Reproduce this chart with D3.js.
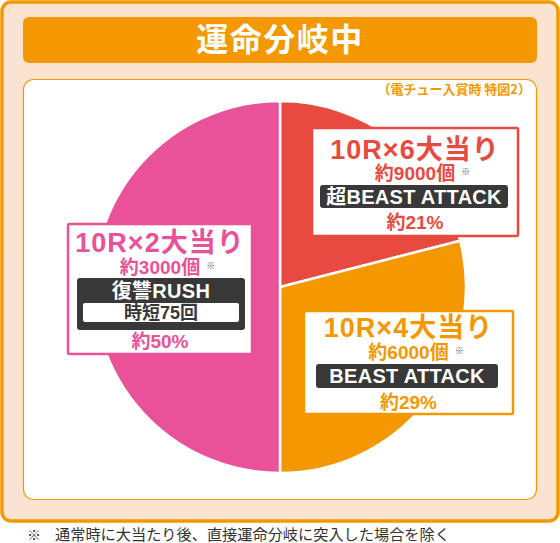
<!DOCTYPE html>
<html>
<head>
<meta charset="utf-8">
<script src="https://cdn.jsdelivr.net/npm/d3@7"></script>
<style>
html,body{margin:0;padding:0;background:#fff;}
svg{display:block;}
text{font-family:"Liberation Sans","Noto Sans CJK JP",sans-serif;}
</style>
</head>
<body>
<svg id="chart" width="560" height="543"></svg>
<script>
// ---- data ----
const title = "運命分岐中";
const subtitle = "（電チュー入賞時 特図2）";
const footnote = "通常時に大当たり後、直接運命分岐に突入した場合を除く";
const categories = ["10R×6大当り", "10R×4大当り", "10R×2大当り"];
const shares = [21, 29, 50];
const payouts = ["約9000個", "約6000個", "約3000個"];
const modes = ["超BEAST ATTACK", "BEAST ATTACK", "復讐RUSH"];
const subModes = ["", "", "時短75回"];
const shareLabels = ["約21%", "約29%", "約50%"];
const colors = ["#e84a40", "#f39800", "#e95198"];

// ---- layout ----
const svg = d3.select("#chart");
const orange = "#f39800";

svg.append("rect").attr("x", 2).attr("y", 2).attr("width", 556).attr("height", 519)
  .attr("rx", 9).attr("fill", "#fbe3d2").attr("stroke", orange).attr("stroke-width", 3.5);
svg.append("rect").attr("x", 23).attr("y", 17).attr("width", 514).attr("height", 46)
  .attr("rx", 6).attr("fill", orange);
svg.append("text").attr("x", 280).attr("y", 51).attr("text-anchor", "middle")
  .attr("fill", "#fff").attr("font-size", 32).attr("font-weight", 700)
  .attr("letter-spacing", 1.5)
  .style("font-family", "'Noto Sans CJK JP',sans-serif").text(title);
svg.append("rect").attr("x", 23.5).attr("y", 79.5).attr("width", 513).attr("height", 420)
  .attr("rx", 10).attr("fill", "#fff").attr("stroke", orange).attr("stroke-width", 1.2);
svg.append("text").attr("x", 531).attr("y", 94).attr("text-anchor", "end")
  .attr("fill", orange).attr("font-size", 13).attr("font-weight", 700)
  .style("font-family", "'Noto Sans CJK JP',sans-serif").text(subtitle);

// ---- pie ----
const cx = 280, cy = 287, R = 186;
const pie = d3.pie().sort(null).value(d => d)(shares);
const arc = d3.arc().innerRadius(0).outerRadius(R);
svg.append("g").attr("transform", `translate(${cx},${cy})`)
  .selectAll("path").data(pie).join("path")
  .attr("d", arc).attr("fill", (d, i) => colors[i])
  .attr("stroke", "#fff").attr("stroke-width", 2.5).attr("stroke-linejoin", "round");

// ---- label boxes (layout) ----
const boxes = [
  {x: 312, y: 128, w: 206, h: 108, head: 159, pay: 180, mode: [320, 185, 188, 23], modeY: 204, share: 229},
  {x: 304, y: 311, w: 209, h: 103, head: 337, pay: 359, mode: [316, 364, 182, 24], modeY: 383, share: 409},
  {x: 68, y: 224, w: 184, h: 130, head: 252, pay: 274, mode: [77, 278, 168, 52], modeY: 298, share: 348}
];
const g = svg.append("g");
boxes.forEach((b, i) => {
  const c = colors[i];
  const mx = b.x + b.w / 2;
  g.append("rect").attr("x", b.x).attr("y", b.y).attr("width", b.w).attr("height", b.h)
    .attr("fill", "#fff").attr("stroke", c).attr("stroke-width", 2.5).attr("rx", 1.5);
  g.append("text").attr("x", mx).attr("y", b.head).attr("text-anchor", "middle")
    .attr("fill", c).attr("font-size", 27).attr("font-weight", 700).attr("letter-spacing", 1)
    .text(categories[i]);
  const p = g.append("text").attr("x", mx).attr("y", b.pay).attr("text-anchor", "middle")
    .attr("fill", c).attr("font-size", 19).attr("font-weight", 700).text(payouts[i]);
  const bb = p.node().getBBox();
  g.append("text").attr("x", bb.x + bb.width + 6).attr("y", b.pay - 5)
    .attr("fill", "#555").attr("font-size", 9).style("font-family", "'Noto Sans CJK JP',sans-serif").text("※");
  const [rx, ry, rw, rh] = b.mode;
  g.append("rect").attr("x", rx).attr("y", ry).attr("width", rw).attr("height", rh)
    .attr("rx", 3).attr("fill", "#383838");
  g.append("text").attr("x", rx + rw / 2).attr("y", b.modeY).attr("text-anchor", "middle")
    .attr("fill", "#fff").attr("font-size", 20).attr("font-weight", 700).attr("letter-spacing", 0.3).text(modes[i]);
  if (subModes[i]) {
    g.append("rect").attr("x", rx + 6).attr("y", ry + 25).attr("width", rw - 12).attr("height", 19)
      .attr("rx", 2).attr("fill", "#fff");
    g.append("text").attr("x", rx + rw / 2).attr("y", ry + 41).attr("text-anchor", "middle")
      .attr("fill", "#383838").attr("font-size", 18).attr("font-weight", 700).text(subModes[i]);
  }
  g.append("text").attr("x", mx).attr("y", b.share).attr("text-anchor", "middle")
    .attr("fill", c).attr("font-size", 19).attr("font-weight", 700).text(shareLabels[i]);
});

// ---- footnote ----
svg.append("text").attr("x", 27).attr("y", 540).attr("fill", "#333").attr("font-size", 14)
  .style("font-family", "'Noto Sans CJK JP',sans-serif").text("※");
svg.append("text").attr("x", 55).attr("y", 540).attr("fill", "#333").attr("font-size", 15.2)
  .style("font-family", "'Noto Sans CJK JP',sans-serif").text(footnote);
</script>
</body>
</html>
